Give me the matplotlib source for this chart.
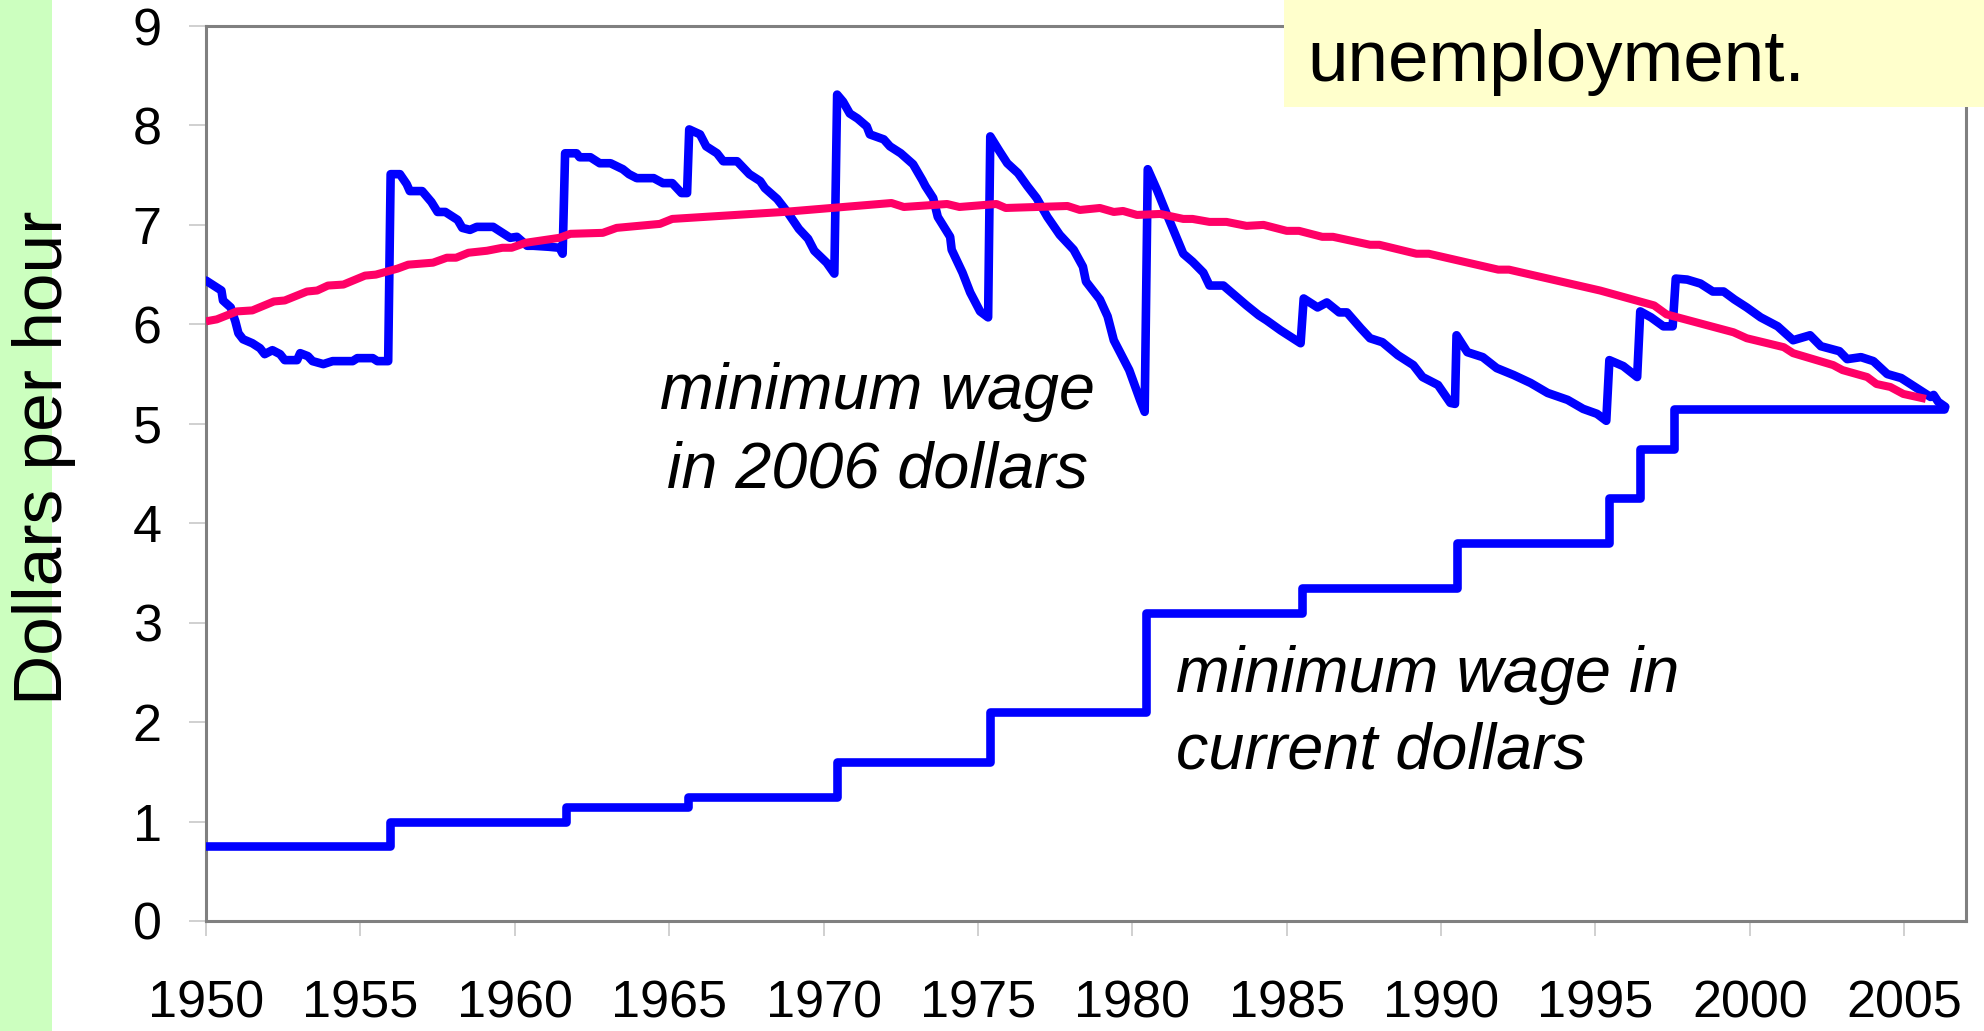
import matplotlib
matplotlib.use("Agg")
import matplotlib.pyplot as plt
from matplotlib.patches import Rectangle

plt.rcParams['font.family'] = ['Liberation Sans', 'DejaVu Sans']

# ---------------- data ----------------
# minimum wage in current dollars: (year of change, new value)
nominal_years = [1950.0, 1955.95, 1961.65, 1965.6, 1970.42, 1975.4, 1980.45,
                 1985.5, 1990.5, 1995.45, 1996.43, 1997.55, 2006.3]
nominal_values = [0.75, 1.00, 1.15, 1.25, 1.60, 2.10, 3.10,
                  3.35, 3.80, 4.25, 4.75, 5.15, 5.15]

# minimum wage in 2006 dollars
real_years = [1950.0, 1950.2, 1950.5, 1950.55, 1950.8, 1950.95, 1951.05, 1951.2, 1951.5,
              1951.75, 1951.9, 1952.15, 1952.4, 1952.55, 1952.95, 1953.05, 1953.3, 1953.45,
              1953.8, 1954.1, 1954.75, 1954.9, 1955.4, 1955.55, 1955.9, 1955.98, 1956.28,
              1956.5, 1956.6, 1957.0, 1957.3, 1957.5, 1957.75, 1958.15, 1958.3, 1958.55,
              1958.77, 1959.3, 1959.6, 1959.85, 1960.07, 1960.4, 1960.6, 1961.1, 1961.45,
              1961.55, 1961.63, 1962.0, 1962.1, 1962.45, 1962.75, 1963.1, 1963.5, 1963.7,
              1963.95, 1964.5, 1964.8, 1965.1, 1965.4, 1965.58, 1965.65, 1966.0, 1966.2,
              1966.55, 1966.75, 1967.2, 1967.6, 1967.95, 1968.1, 1968.5, 1968.85, 1969.2,
              1969.5, 1969.7, 1970.1, 1970.35, 1970.44, 1970.63, 1970.85, 1971.1, 1971.4,
              1971.5, 1971.95, 1972.15, 1972.5, 1972.9, 1973.2, 1973.3, 1973.55, 1973.7,
              1974.1, 1974.15, 1974.5, 1974.75, 1975.07, 1975.33, 1975.4, 1975.7, 1975.95,
              1976.3, 1976.6, 1976.9, 1977.25, 1977.65, 1978.1, 1978.4, 1978.5, 1978.95,
              1979.2, 1979.4, 1979.9, 1980.25, 1980.4, 1980.5, 1980.8, 1981.1, 1981.65,
              1981.95, 1982.3, 1982.5, 1982.95, 1983.25, 1983.7, 1984.1, 1984.35, 1984.8,
              1985.45, 1985.55, 1986.0, 1986.3, 1986.7, 1986.95, 1987.4, 1987.7, 1988.1,
              1988.6, 1989.1, 1989.4, 1989.9, 1990.3, 1990.45, 1990.5, 1990.85, 1991.35,
              1991.8, 1992.35, 1992.9, 1993.45, 1994.1, 1994.6, 1995.05, 1995.35, 1995.45,
              1995.9, 1996.35, 1996.45, 1996.8, 1997.2, 1997.5, 1997.6, 1997.97, 1998.4,
              1998.8, 1999.15, 1999.5, 1999.9, 2000.35, 2000.9, 2001.4, 2001.95, 2002.3,
              2002.9, 2003.15, 2003.6, 2004.0, 2004.45, 2004.9, 2005.4, 2005.85, 2005.95,
              2006.1, 2006.33]
real_values = [6.44, 6.40, 6.34, 6.24, 6.17, 6.03, 5.91, 5.85, 5.81,
               5.76, 5.70, 5.74, 5.70, 5.64, 5.64, 5.71, 5.68, 5.63,
               5.60, 5.63, 5.63, 5.66, 5.66, 5.63, 5.63, 7.51, 7.51,
               7.41, 7.34, 7.34, 7.23, 7.13, 7.13, 7.05, 6.97, 6.95,
               6.98, 6.98, 6.92, 6.87, 6.88, 6.79, 6.79, 6.78, 6.77,
               6.71, 7.72, 7.72, 7.68, 7.68, 7.62, 7.62, 7.56, 7.51,
               7.47, 7.47, 7.42, 7.42, 7.32, 7.32, 7.96, 7.91, 7.79,
               7.72, 7.64, 7.64, 7.51, 7.44, 7.37, 7.26, 7.12, 6.96,
               6.86, 6.74, 6.62, 6.51, 8.31, 8.24, 8.12, 8.07, 7.99,
               7.91, 7.86, 7.79, 7.72, 7.61, 7.45, 7.39, 7.27, 7.08,
               6.88, 6.75, 6.52, 6.32, 6.13, 6.07, 7.89, 7.74, 7.62,
               7.52, 7.39, 7.27, 7.08, 6.90, 6.75, 6.58, 6.43, 6.25,
               6.08, 5.84, 5.54, 5.24, 5.12, 7.56, 7.35, 7.12, 6.71,
               6.63, 6.52, 6.39, 6.39, 6.31, 6.19, 6.09, 6.04, 5.94,
               5.81, 6.26, 6.17, 6.22, 6.12, 6.12, 5.96, 5.86, 5.82,
               5.69, 5.59, 5.47, 5.39, 5.21, 5.20, 5.89, 5.72, 5.67,
               5.56, 5.49, 5.41, 5.31, 5.24, 5.15, 5.10, 5.03, 5.64,
               5.58, 5.47, 6.13, 6.07, 5.98, 5.98, 6.46, 6.45, 6.41,
               6.33, 6.33, 6.25, 6.17, 6.07, 5.98, 5.84, 5.89, 5.78,
               5.73, 5.65, 5.67, 5.63, 5.50, 5.46, 5.36, 5.27, 5.29,
               5.22, 5.17]

# trend line (pink)
trend_years = [1950.0, 1950.35, 1951.0, 1951.5, 1952.2, 1952.55, 1953.27, 1953.6, 1953.95,
               1954.45, 1955.15, 1955.5, 1956.2, 1956.55, 1957.35, 1957.8, 1958.1, 1958.5,
               1959.1, 1959.6, 1959.9, 1960.35, 1961.45, 1961.8, 1962.85, 1963.3, 1964.7,
               1965.1, 1968.7, 1972.2, 1972.6, 1974.0, 1974.4, 1975.6, 1975.9, 1977.9,
               1978.3, 1978.95, 1979.4, 1979.7, 1980.15, 1980.9, 1981.65, 1981.95, 1982.5,
               1983.05, 1983.7, 1984.25, 1985.0, 1985.4, 1986.15, 1986.5, 1987.7, 1988.0,
               1989.2, 1989.6, 1991.85, 1992.2, 1995.15, 1996.9, 1997.3, 1999.47, 1999.9,
               2001.1, 2001.4, 2002.7, 2003.0, 2003.8, 2004.1, 2004.55, 2004.97, 2005.7]
trend_values = [6.03, 6.05, 6.13, 6.14, 6.23, 6.24, 6.33, 6.34, 6.39,
                6.40, 6.49, 6.50, 6.56, 6.60, 6.62, 6.67, 6.67, 6.72,
                6.74, 6.77, 6.77, 6.82, 6.87, 6.91, 6.92, 6.97, 7.01,
                7.06, 7.13, 7.22, 7.18, 7.21, 7.18, 7.21, 7.17, 7.19,
                7.15, 7.17, 7.13, 7.14, 7.10, 7.11, 7.06, 7.06, 7.03,
                7.03, 6.99, 7.00, 6.94, 6.94, 6.88, 6.88, 6.80, 6.80,
                6.71, 6.71, 6.55, 6.55, 6.34, 6.19, 6.10, 5.92, 5.86,
                5.77, 5.71, 5.59, 5.54, 5.47, 5.40, 5.37, 5.30, 5.25]

x_ticks = [1950, 1955, 1960, 1965, 1970, 1975, 1980, 1985, 1990, 1995, 2000, 2005]
y_ticks = [0, 1, 2, 3, 4, 5, 6, 7, 8, 9]

# ---------------- figure ----------------
W, H = 1984, 1031
fig = plt.figure(figsize=(W / 100, H / 100), dpi=100)
fig.patch.set_facecolor('white')

# green strip at left
fig.add_artist(Rectangle((0, 0), 52 / W, 1, transform=fig.transFigure,
                         facecolor='#CCFFBF', edgecolor='none', zorder=-1))

ax = fig.add_axes([206 / W, 1 - 921 / H, (1966 - 206) / W, (921 - 26) / H])
ax.set_xlim(1950, 2007)
ax.set_ylim(0, 9)

blue = '#0000FF'
pink = '#FF0066'
ax.step(nominal_years, nominal_values, where='post', color=blue, lw=6.2,
        solid_joinstyle='round', solid_capstyle='round', zorder=3)
ax.plot(real_years, real_values, color=blue, lw=6.2,
        solid_joinstyle='round', solid_capstyle='round', zorder=3)
ax.plot(trend_years, trend_values, color=pink, lw=5.8,
        solid_joinstyle='round', solid_capstyle='butt', zorder=4)

for s in ax.spines.values():
    s.set_color('#808080')
    s.set_linewidth(2.2)

ax.set_xticks(x_ticks)
ax.set_yticks(y_ticks)
ax.set_xticklabels([str(v) for v in x_ticks])
ax.set_yticklabels([str(v) for v in y_ticks])
ax.tick_params(axis='both', direction='out', color='#C8C8C8', width=1.2,
               labelsize=37.5, labelcolor='black')
ax.tick_params(axis='x', length=11, pad=31)
ax.tick_params(axis='y', length=12, pad=20)

# annotations
ax.text(1971.76, 5.15, 'minimum wage', fontsize=46.5, style='italic',
        ha='center', va='baseline', zorder=6)
ax.text(1971.76, 4.36, 'in 2006 dollars', fontsize=46.5, style='italic',
        ha='center', va='baseline', zorder=6)
ax.text(1981.43, 2.30, 'minimum wage in', fontsize=46.5, style='italic',
        ha='left', va='baseline', zorder=6)
ax.text(1981.43, 1.53, 'current dollars', fontsize=46.5, style='italic',
        ha='left', va='baseline', zorder=6)

# y label
fig.text(44 / W, 1 - 458 / H, 'Dollars per hour', rotation=90, fontsize=50,
         ha='center', va='center')

# yellow box at top right
fig.add_artist(Rectangle((1284 / W, 1 - 107 / H), (W - 1284) / W, 107 / H,
                         transform=fig.transFigure, facecolor='#FFFFCC',
                         edgecolor='none', zorder=5))
fig.text(1307 / W, 1 - 81 / H, 'unemployment.', fontsize=52.5,
         ha='left', va='baseline', zorder=6)

fig.savefig('out.png', dpi=100)
